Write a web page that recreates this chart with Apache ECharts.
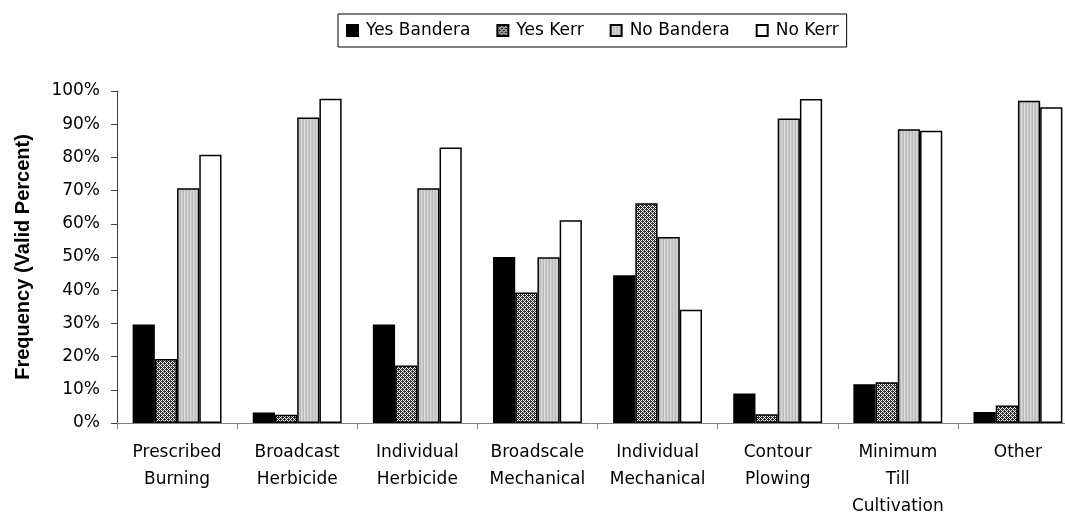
<!DOCTYPE html>
<html>
<head>
<meta charset="utf-8">
<script src="https://cdn.jsdelivr.net/npm/echarts@6/dist/echarts.min.js"></script>
<style>
  html, body { margin: 0; padding: 0; background: #fff; }
  #chart { width: 1065px; height: 515px; }
</style>
</head>
<body>
<div id="chart"></div>
<script>
// Treatment practices and response shares (valid percent)
const categories = [
  'Prescribed\nBurning',
  'Broadcast\nHerbicide',
  'Individual\nHerbicide',
  'Broadscale\nMechanical',
  'Individual\nMechanical',
  'Contour\nPlowing',
  'Minimum\nTill\nCultivation',
  'Other'
];
const seriesNames = ['Yes Bandera', 'Yes Kerr', 'No Bandera', 'No Kerr'];
const yesBandera = [29.7, 3.2, 29.7, 50.0, 44.5, 8.9, 11.7, 3.3];
const yesKerr    = [19.3, 2.5, 17.3, 39.3, 66.2, 2.6, 12.3, 5.3];
const noBandera  = [70.7, 92.0, 70.7, 49.9, 56.0, 91.7, 88.5, 97.1];
const noKerr     = [80.8, 97.7, 83.0, 61.1, 34.1, 97.6, 88.0, 95.1];
const yTicks = [0, 10, 20, 30, 40, 50, 60, 70, 80, 90, 100];

// Small repeating fills for the grayscale bar styles
function makePattern(rows, palette) {
  const c = document.createElement('canvas');
  c.width = rows[0].length;
  c.height = rows.length;
  const ctx = c.getContext('2d');
  rows.forEach((row, y) => {
    for (let x = 0; x < row.length; x++) {
      ctx.fillStyle = palette[row[x]];
      ctx.fillRect(x, y, 1, 1);
    }
  });
  return { image: c, repeat: 'repeat' };
}

const checkerFill = makePattern(
  ['1010', '0111', '1010', '1101'],
  { '0': '#ffffff', '1': '#303030' }
);
const stripeFill = makePattern(
  ['012', '012'],
  { '0': '#bababa', '1': '#d9d9d9', '2': '#c8c8c8' }
);

const fills = ['#000000', checkerFill, stripeFill, '#ffffff'];
const values = [yesBandera, yesKerr, noBandera, noKerr];

const textFont = 'DejaVu Sans';

const chart = echarts.init(document.getElementById('chart'), null, { renderer: 'canvas' });

chart.setOption({
  backgroundColor: '#ffffff',
  animation: false,
  legend: {
    data: seriesNames,
    left: 338,
    top: 14,
    itemWidth: 11,
    itemHeight: 11,
    itemGap: 26,
    padding: [8, 8, 8, 8],
    borderColor: '#000000',
    borderWidth: 1,
    icon: 'rect',
    textStyle: { fontFamily: textFont, fontSize: 17, color: '#000000', padding: [0, 0, 0, 3] }
  },
  grid: {
    left: 117,
    top: 91,
    bottom: 92,
    right: -13,
    containLabel: false,
    outerBoundsMode: 'none'
  },
  xAxis: {
    type: 'category',
    data: categories,
    boundaryGap: true,
    axisLine: { show: true, lineStyle: { color: '#808080', width: 1 } },
    axisTick: { show: true, length: 6, alignWithLabel: false, lineStyle: { color: '#808080' } },
    axisLabel: {
      interval: 0,
      margin: 16,
      fontFamily: textFont,
      fontSize: 17,
      lineHeight: 27,
      color: '#000000'
    },
    splitLine: { show: false }
  },
  yAxis: {
    type: 'value',
    min: yTicks[0],
    max: yTicks[yTicks.length - 1],
    interval: 10,
    name: 'Frequency (Valid Percent)',
    nameLocation: 'middle',
    nameRotate: 90,
    nameGap: 84,
    nameTextStyle: { fontFamily: 'Liberation Sans', fontWeight: 'bold', fontSize: 20, color: '#000000' },
    axisLine: { show: true, lineStyle: { color: '#404040', width: 1 } },
    axisTick: { show: true, length: 6, inside: false, lineStyle: { color: '#404040' } },
    axisLabel: {
      formatter: '{value}%',
      margin: 17,
      fontFamily: textFont,
      fontSize: 17,
      color: '#000000'
    },
    splitLine: { show: false }
  },
  series: seriesNames.map((name, i) => ({
    name: name,
    type: 'bar',
    data: values[i],
    barGap: '0%',
    barCategoryGap: '26%',
    itemStyle: {
      color: fills[i],
      borderColor: '#000000',
      borderWidth: 1.5
    },
    emphasis: { disabled: true }
  }))
});
</script>
</body>
</html>
